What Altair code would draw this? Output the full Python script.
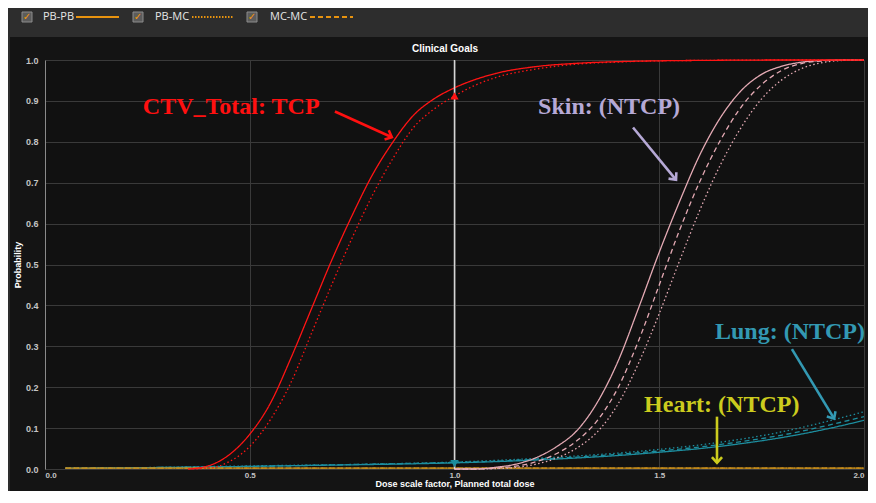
import math
import altair as alt
import pandas as pd

# ---------------- data ----------------
calcs = ["PB-PB", "PB-MC", "MC-MC"]
structures = ["Lung", "Heart", "Skin", "CTV_Total"]

ctv_dose = [0.35, 0.40, 0.45, 0.50, 0.55, 0.60, 0.65, 0.70, 0.75, 0.80, 0.85, 0.90,
            0.95, 1.00, 1.05, 1.10, 1.20, 1.30, 1.40, 1.50, 1.60, 1.80, 2.00]
ctv_pbpb = [0.0, 0.008, 0.035, 0.085, 0.16, 0.27, 0.39, 0.51, 0.62, 0.72, 0.80, 0.865,
            0.905, 0.932, 0.952, 0.967, 0.984, 0.992, 0.996, 0.998, 0.999, 1.0, 1.0]
ctv_pbmc = [0.0, 0.002, 0.018, 0.055, 0.12, 0.21, 0.33, 0.45, 0.565, 0.67, 0.76, 0.835,
            0.88, 0.912, 0.938, 0.957, 0.978, 0.99, 0.995, 0.998, 0.999, 1.0, 1.0]

skin_dose = [1.00, 1.05, 1.10, 1.15, 1.20, 1.25, 1.30, 1.35, 1.40, 1.45, 1.50, 1.55,
             1.60, 1.65, 1.70, 1.75, 1.80, 1.85, 1.90, 1.95, 2.00]
skin_pbpb = [0.0, 0.0, 0.004, 0.012, 0.028, 0.055, 0.095, 0.165, 0.265, 0.395, 0.53, 0.655,
             0.77, 0.86, 0.925, 0.965, 0.985, 0.995, 0.999, 1.0, 1.0]
skin_mcmc = [0.0, 0.0, 0.002, 0.007, 0.018, 0.038, 0.07, 0.12, 0.20, 0.315, 0.45, 0.585,
             0.705, 0.805, 0.885, 0.94, 0.975, 0.992, 0.998, 1.0, 1.0]
skin_pbmc = [0.0, 0.0, 0.001, 0.004, 0.012, 0.027, 0.052, 0.092, 0.16, 0.26, 0.38, 0.51,
             0.635, 0.745, 0.835, 0.905, 0.952, 0.98, 0.994, 0.999, 1.0]

lung_dose = [0.05, 0.2, 0.4, 0.6, 0.8, 1.0, 1.1, 1.2, 1.3, 1.4, 1.5, 1.6, 1.7, 1.8, 1.9, 2.0]
lung_pbpb = [0.002, 0.003, 0.005, 0.008, 0.011, 0.015, 0.018, 0.022, 0.027, 0.033, 0.041,
             0.05, 0.062, 0.077, 0.096, 0.119]
lung_mcmc = [0.002, 0.003, 0.005, 0.008, 0.012, 0.016, 0.019, 0.024, 0.029, 0.036, 0.044,
             0.054, 0.067, 0.083, 0.104, 0.128]
lung_pbmc = [0.002, 0.003, 0.006, 0.009, 0.012, 0.017, 0.021, 0.026, 0.032, 0.039, 0.048,
             0.059, 0.073, 0.091, 0.114, 0.14]

heart_dose = [0.05, 2.0]
heart_pbpb = [0.002, 0.002]
heart_pbmc = [0.002, 0.002]
heart_mcmc = [0.002, 0.002]

# markers at the planned dose (1.0)
marker_dose = [1.0, 1.0]
marker_prob = [0.912, 0.013]
marker_struct = ["CTV_Total", "Lung"]

# annotations: label, text anchor (dose, prob), arrow start/end (dose, prob)
ann_text = ["CTV_Total: TCP", "Skin: (NTCP)", "Lung: (NTCP)", "Heart: (NTCP)"]
ann_x = [0.239, 1.204, 1.636, 1.463]
ann_y = [0.869, 0.869, 0.317, 0.140]
arr_x1 = [0.708, 1.436, 1.824, 1.641]
arr_y1 = [0.874, 0.835, 0.293, 0.128]
arr_x2 = [0.847, 1.541, 1.927, 1.641]
arr_y2 = [0.811, 0.707, 0.123, 0.015]
ann_colors = ["#ff1010", "#b6a9d6", "#3399b3", "#cccc1e"]

rows = []
def add(struct, calc, xs, ys):
    for x, y in zip(xs, ys):
        rows.append({"structure": struct, "calc": calc, "dose": x, "prob": y})

add("Lung", "PB-PB", lung_dose, lung_pbpb)
add("Lung", "MC-MC", lung_dose, lung_mcmc)
add("Lung", "PB-MC", lung_dose, lung_pbmc)
add("Heart", "PB-PB", heart_dose, heart_pbpb)
add("Heart", "PB-MC", heart_dose, heart_pbmc)
add("Heart", "MC-MC", heart_dose, heart_mcmc)
add("Skin", "PB-PB", skin_dose, skin_pbpb)
add("Skin", "MC-MC", skin_dose, skin_mcmc)
add("Skin", "PB-MC", skin_dose, skin_pbmc)
add("CTV_Total", "PB-PB", ctv_dose, ctv_pbpb)
add("CTV_Total", "PB-MC", ctv_dose, ctv_pbmc)
df = pd.DataFrame(rows)

# ---------------- layout ----------------
W, H = 819, 409
PAD = {"left": 37, "top": 52, "right": 4, "bottom": 22}
PX = W / 2.0     # pixels per dose unit
PY = H / 1.0     # pixels per probability unit

xscale = alt.Scale(domain=[0, 2], nice=False, zero=False)
yscale = alt.Scale(domain=[0, 1], nice=False)

xaxis = alt.Axis(values=[0, 0.5, 1.0, 1.5, 2.0], format=".1f", title="Dose scale factor, Planned total dose")
yaxis = alt.Axis(values=[round(i * 0.1, 1) for i in range(11)], format=".1f", title="Probability")

def X(field="dose"):
    return alt.X(f"{field}:Q", scale=xscale, axis=xaxis)

def Y(field="prob"):
    return alt.Y(f"{field}:Q", scale=yscale, axis=yaxis)

color_scale = alt.Scale(domain=["CTV_Total", "Skin", "Lung", "Heart"],
                        range=["#ff1414", "#e4aab4", "#1d8d9e", "#c98f1c"])
dash_scale = alt.Scale(domain=calcs, range=[[1, 0], [1.5, 2.5], [5, 3.5]])

one = pd.DataFrame({"a": [0]})
layers = []

# window chrome: top bar and thin left strip
layers.append(alt.Chart(one).mark_rect(color="#2d2d2d").encode(
    x=alt.value(-PAD["left"]), x2=alt.value(W + PAD["right"]), y=alt.value(-PAD["top"]), y2=alt.value(-23)))
layers.append(alt.Chart(one).mark_rect(color="#2d2d2d").encode(
    x=alt.value(-PAD["left"]), x2=alt.value(-35), y=alt.value(-23), y2=alt.value(H + PAD["bottom"])))

# title
layers.append(alt.Chart(one).mark_text(text="Clinical Goals", color="#ffffff", fontSize=10, fontWeight="bold",
                                       font="Liberation Sans", align="center", baseline="middle").encode(
    x=alt.value(400), y=alt.value(-11)))

# curves
layers.append(alt.Chart(df).mark_line(strokeWidth=1.3, interpolate="monotone").encode(
    x=X(), y=Y(),
    color=alt.Color("structure:N", scale=color_scale, legend=None),
    strokeDash=alt.StrokeDash("calc:N", scale=dash_scale, legend=None),
    order="dose:Q",
))

# planned dose line
layers.append(alt.Chart(pd.DataFrame({"dose": [1.0]})).mark_rule(color="#d6d6d6", strokeWidth=1.5).encode(
    x=X()))

# markers at the planned dose
mk = pd.DataFrame({"dose": marker_dose, "prob": marker_prob, "structure": marker_struct})
layers.append(alt.Chart(mk[mk.structure == "CTV_Total"]).mark_point(
    shape="triangle-up", filled=True, size=70, opacity=1, color="#ff1414").encode(x=X(), y=Y()))
layers.append(alt.Chart(mk[mk.structure == "Lung"]).mark_point(
    shape="triangle-down", filled=True, size=70, opacity=1, color="#1d8d9e").encode(x=X(), y=Y()))

# annotations with arrows
chevron = "M-0.8,0.9L0,0L0.8,0.9"
for i, txt in enumerate(ann_text):
    c = ann_colors[i]
    layers.append(alt.Chart(pd.DataFrame({"dose": [ann_x[i]], "prob": [ann_y[i]], "t": [txt]})).mark_text(
        align="left", baseline="alphabetic", font="Liberation Serif", fontWeight="bold",
        fontSize=24, color=c).encode(x=X(), y=Y(), text="t:N"))
    dxp = (arr_x2[i] - arr_x1[i]) * PX
    dyp = -(arr_y2[i] - arr_y1[i]) * PY
    ang = math.degrees(math.atan2(dxp, -dyp)) % 360
    seg = pd.DataFrame({"dose": [arr_x1[i]], "prob": [arr_y1[i]],
                        "dose2": [arr_x2[i]], "prob2": [arr_y2[i]]})
    layers.append(alt.Chart(seg).mark_rule(color=c, strokeWidth=2.6).encode(
        x=X(), y=Y(), x2="dose2:Q", y2="prob2:Q"))
    layers.append(alt.Chart(seg).mark_point(shape=chevron, filled=False, size=160, strokeWidth=2.6,
                                             color=c, opacity=1, angle=ang).encode(
        x=X("dose2"), y=Y("prob2")))

# window legend (checkbox, label, line sample)
leg_box = [-23, 88, 202]
leg_text = [-2, 110, 225]
leg_line = [(31, 74), (147, 188), (265, 308)]
leg_dash = [[1, 0], [1.5, 1.5], [5, 3]]
LY = -43
for i, name in enumerate(calcs):
    layers.append(alt.Chart(one).mark_rect(fill="#5c5c5c", stroke="#8c8c8c", strokeWidth=1).encode(
        x=alt.value(leg_box[i]), x2=alt.value(leg_box[i] + 10),
        y=alt.value(LY - 5), y2=alt.value(LY + 5)))
    layers.append(alt.Chart(one).mark_text(text="✓", color="#f0960e", fontSize=10, fontWeight="bold",
                                           align="center", baseline="middle", font="DejaVu Sans").encode(
        x=alt.value(leg_box[i] + 5), y=alt.value(LY)))
    layers.append(alt.Chart(one).mark_text(text=name, color="#e6e6e6", fontSize=11, align="left",
                                           baseline="middle", font="Open Sans").encode(
        x=alt.value(leg_text[i]), y=alt.value(LY)))
    layers.append(alt.Chart(one).mark_rule(color="#e8930f", strokeWidth=2, strokeDash=leg_dash[i]).encode(
        x=alt.value(leg_line[i][0]), x2=alt.value(leg_line[i][1]), y=alt.value(LY)))

chart = alt.layer(*layers).properties(
    width=W, height=H,
    padding=PAD,
    autosize=alt.AutoSizeParams(type="none"),
).configure(background="#141414").configure_view(fill="#111111", stroke=None).configure_axis(
    gridColor="#3a3a3a", gridWidth=1, ticks=False, tickSize=0,
    labelColor="#c4c4c4", labelFont="Liberation Sans", labelFontSize=9, labelFontWeight="bold",
    titleColor="#ffffff", titleFont="Liberation Sans", titleFontSize=9, titleFontWeight="bold",
).configure_axisX(domain=False, labelPadding=2, labelFontSize=8, titlePadding=0).configure_axisY(
    domain=True, domainColor="#8a8a8a", labelPadding=7, titlePadding=3)

chart.save("out.html", embed_options={"renderer": "svg", "actions": False})
